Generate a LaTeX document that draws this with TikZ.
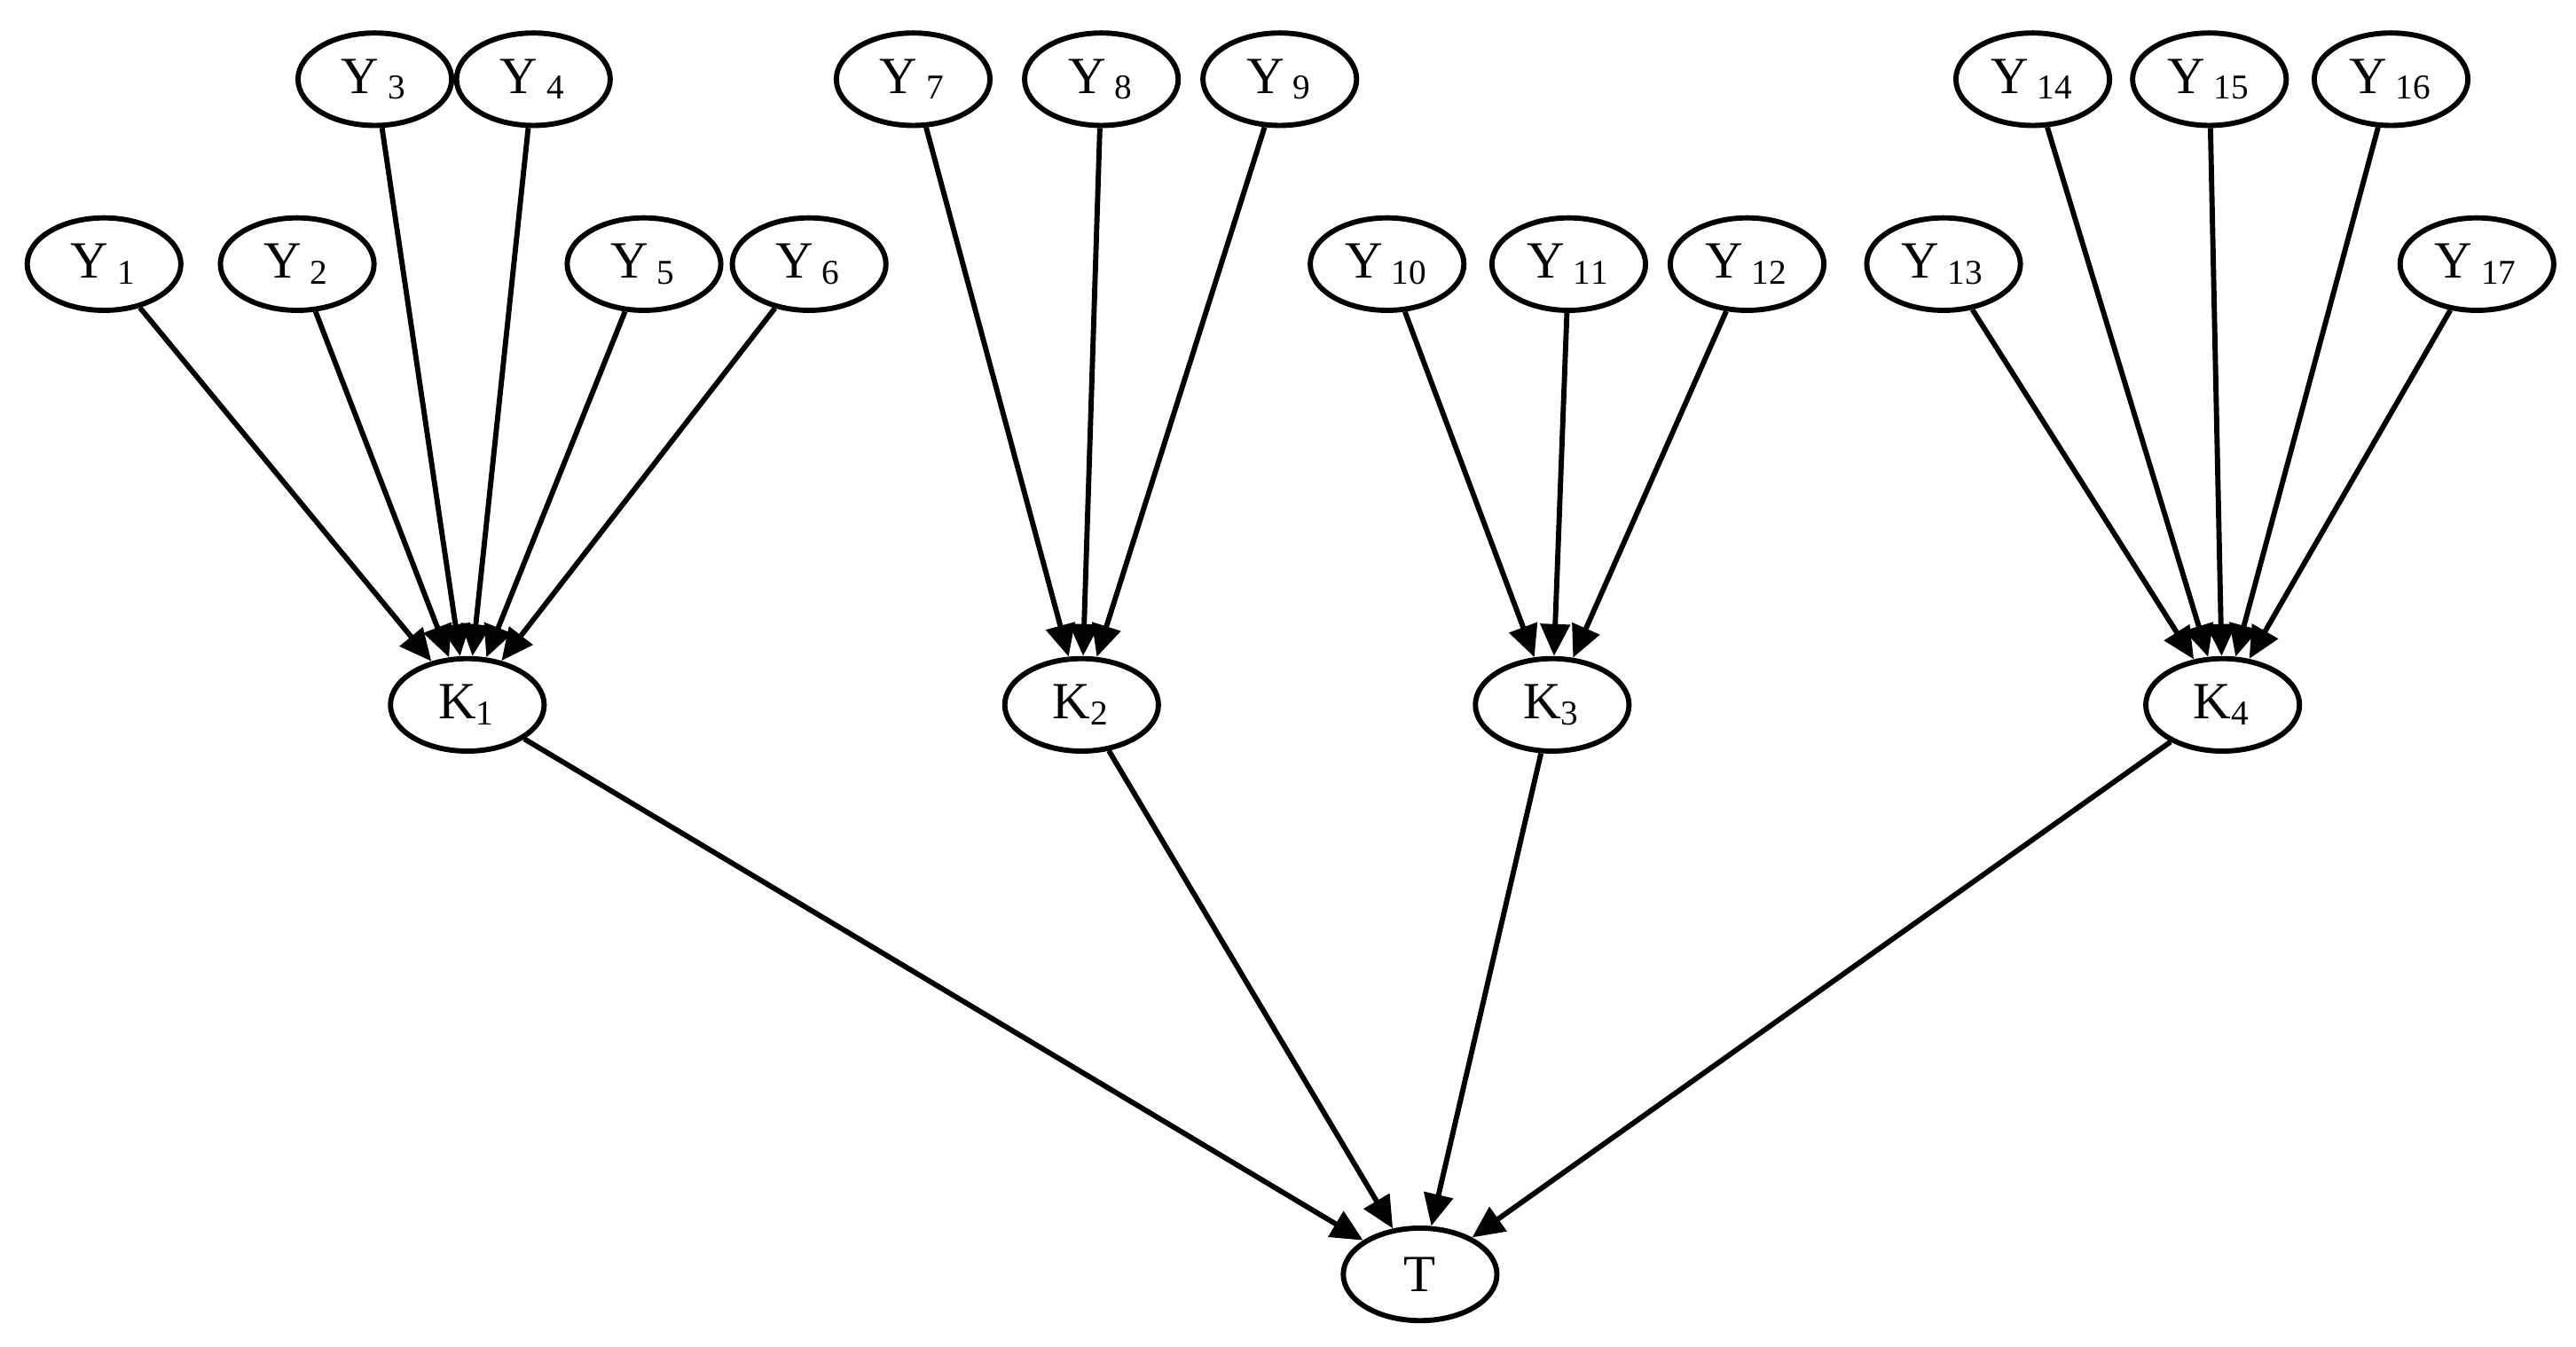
\documentclass[tikz,border=0pt]{standalone}
\usepackage{fontspec}
\setmainfont{Liberation Serif}
\usetikzlibrary{shapes.geometric,arrows.meta}
\begin{document}
\begin{tikzpicture}[x=0.01cm,y=-0.01cm,
 nd/.style={ellipse,draw,line width=0.9pt,minimum width=0.93cm,minimum height=0.56cm,inner sep=0pt,font=\fontsize{9}{10}\selectfont},
 ar/.style={-{Triangle[length=5.5pt,width=5pt]},line width=0.9pt}]
\useasboundingbox (0,0) rectangle (1560,816);
\foreach \n/\x/\y/\l in {y3/227/48/3,y4/323/48/4,y7/553/48/7,y8/667/48/8,y9/775/48/9,y14/1231/48/14,y15/1338/48/15,y16/1448/48/16,
 y1/63/160/1,y2/180/160/2,y5/390/160/5,y6/490/160/6,y10/840/160/10,y11/950/160/11,y12/1058/160/12,y13/1177/160/13,y17/1500/160/17}
 \node[nd] (\n) at (\x,\y) {Y\,$_{\mathrm{\l}}$};
\foreach \n/\x/\l in {k1/283/1,k2/655/2,k3/940/3,k4/1346/4}
 \node[nd] (\n) at (\x,427) {K$_{\mathrm{\l}}$};
\node[nd] (t) at (860,772) {T};
\foreach \a in {y1,y2,y3,y4,y5,y6} \draw[ar] (\a) -- (k1);
\foreach \a in {y7,y8,y9} \draw[ar] (\a) -- (k2);
\foreach \a in {y10,y11,y12} \draw[ar] (\a) -- (k3);
\foreach \a in {y13,y14,y15,y16,y17} \draw[ar] (\a) -- (k4);
\foreach \a in {k1,k2,k3,k4} \draw[ar] (\a) -- (t);
\end{tikzpicture}
\end{document}
